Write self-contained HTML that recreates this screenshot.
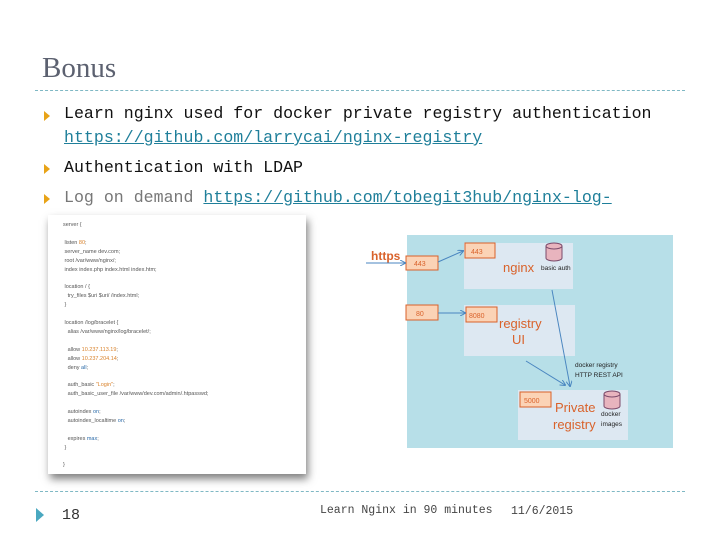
<!DOCTYPE html>
<html><head><meta charset="utf-8"><style>
body{margin:0;width:720px;height:540px;background:#fff;position:relative;overflow:hidden;font-family:"Liberation Mono","Noto Sans CJK SC",monospace}
.a{position:absolute;white-space:nowrap}
.t{font-size:16.6px;color:#111}
.lk{color:#1f7f9a;text-decoration:underline}
.bul{position:absolute;width:0;height:0;border-left:6px solid #e8a317;border-top:5px solid transparent;border-bottom:5px solid transparent}
.dash{position:absolute;left:35px;width:650px;border-top:1px dashed #7fb8c4}
.code{font-family:"Liberation Sans",sans-serif;font-size:5.5px;color:#555;line-height:8.9px}
.o{color:#d9822b}.b{color:#2a6aa8}
</style></head><body>
<div class="a" style="left:42px;top:52px;font-family:'Liberation Serif',serif;font-size:29px;color:#5c6170">Bonus</div>
<div class="dash" style="top:90px"></div>
<div class="bul" style="left:44px;top:111px"></div>
<div class="a t" style="left:64px;top:104px">Learn nginx used for docker private registry authentication</div>
<div class="a t lk" style="left:64px;top:128px">https://github.com/larrycai/nginx-registry</div>
<div class="bul" style="left:44px;top:164px"></div>
<div class="a t" style="left:64px;top:158px">Authentication with LDAP</div>
<div class="bul" style="left:44px;top:194px"></div>
<div class="a t" style="left:64px;top:188px;color:#777">Log on demand <span class="lk">https://github.com/tobegit3hub/nginx-log-</span></div>

<div class="a" style="left:48px;top:215px;width:258px;height:259px;background:#fff;box-shadow:2px 5px 8px rgba(0,0,0,.5)"></div>
<div class="a code" style="left:63px;top:221px">server {<br><br>&nbsp;listen <span class="o">80</span>;<br>&nbsp;server_name dev.com;<br>&nbsp;root /var/www/nginx/;<br>&nbsp;index index.php index.html index.htm;<br><br>&nbsp;location / {<br>&nbsp;&nbsp;&nbsp;try_files $uri $uri/ /index.html;<br>&nbsp;}<br><br>&nbsp;location /log/bracelet {<br>&nbsp;&nbsp;&nbsp;alias /var/www/nginx/log/bracelet/;<br><br>&nbsp;&nbsp;&nbsp;allow <span class="o">10.237.113.19</span>;<br>&nbsp;&nbsp;&nbsp;allow <span class="o">10.237.204.14</span>;<br>&nbsp;&nbsp;&nbsp;deny <span class="b">all</span>;<br><br>&nbsp;&nbsp;&nbsp;auth_basic <span class="o">"Login"</span>;<br>&nbsp;&nbsp;&nbsp;auth_basic_user_file /var/www/dev.com/admin/.htpasswd;<br><br>&nbsp;&nbsp;&nbsp;autoindex <span class="b">on</span>;<br>&nbsp;&nbsp;&nbsp;autoindex_localtime <span class="b">on</span>;<br><br>&nbsp;&nbsp;&nbsp;expires <span class="b">max</span>;<br>&nbsp;}<br><br>}</div>

<svg class="a" style="left:0;top:0" width="720" height="540" font-family="Liberation Sans,sans-serif">
<defs><marker id="m" markerWidth="6" markerHeight="6" refX="5" refY="3" orient="auto"><path d="M0,0L6,3L0,6" fill="none" stroke="#4a86c0" stroke-width="1"/></marker></defs>
<rect x="407" y="235" width="266" height="213" fill="#b7dfe8"/>
<rect x="464" y="243" width="109" height="46" fill="#dde8f2"/>
<rect x="464" y="305" width="111" height="51" fill="#dde8f2"/>
<rect x="518" y="390" width="110" height="50" fill="#dde8f2"/>
<g fill="#fbd3b6" stroke="#d9622b" stroke-width="1">
<rect x="406" y="256" width="32" height="14"/><rect x="465" y="243" width="30" height="15"/>
<rect x="406" y="305" width="32" height="15"/><rect x="466" y="307" width="31" height="15"/>
<rect x="520" y="392" width="31" height="15"/></g>
<g font-size="7" fill="#d9622b"><text x="414" y="266">443</text><text x="471" y="254">443</text><text x="416" y="316">80</text><text x="469" y="318">8080</text><text x="524" y="403">5000</text></g>
<g fill="#d9622b" font-size="13"><text x="503" y="272">nginx</text><text x="499" y="328">registry</text><text x="512" y="344">UI</text><text x="555" y="412">Private</text><text x="553" y="429">registry</text></g>
<text x="371" y="260" fill="#d9622b" font-size="12" font-weight="bold">https</text>
<g stroke="#4a86c0" stroke-width="1" fill="none" marker-end="url(#m)">
<line x1="366" y1="263" x2="405" y2="263"/><line x1="438" y1="262" x2="463" y2="251"/>
<line x1="438" y1="313" x2="465" y2="313"/><line x1="552" y1="290" x2="570" y2="386"/><line x1="526" y1="361" x2="565" y2="385"/></g>
<g fill="#e8b4be" stroke="#7a4a6a" stroke-width="1"><path d="M546,246v12a8,3 0 0 0 16,0v-12"/><ellipse cx="554" cy="246" rx="8" ry="3"/>
<path d="M604,394v12a8,3 0 0 0 16,0v-12"/><ellipse cx="612" cy="394" rx="8" ry="3"/></g>
<g font-size="6.5" fill="#222"><text x="541" y="270">basic auth</text><text x="575" y="367">docker registry</text><text x="575" y="377">HTTP REST API</text><text x="601" y="416">docker</text><text x="601" y="426">images</text></g>
<path d="M36,508L44,515L36,522Z" fill="#4aa8c0"/>
</svg>
<div class="dash" style="top:491px"></div>
<div class="a" style="left:62px;top:507px;font-size:15px;color:#333">18</div>
<div class="a" style="left:320px;top:504px;font-size:11.5px;color:#444">Learn Nginx in 90 minutes</div>
<div class="a" style="left:511px;top:505px;font-size:11.5px;color:#444">11/6/2015</div>
</body></html>
